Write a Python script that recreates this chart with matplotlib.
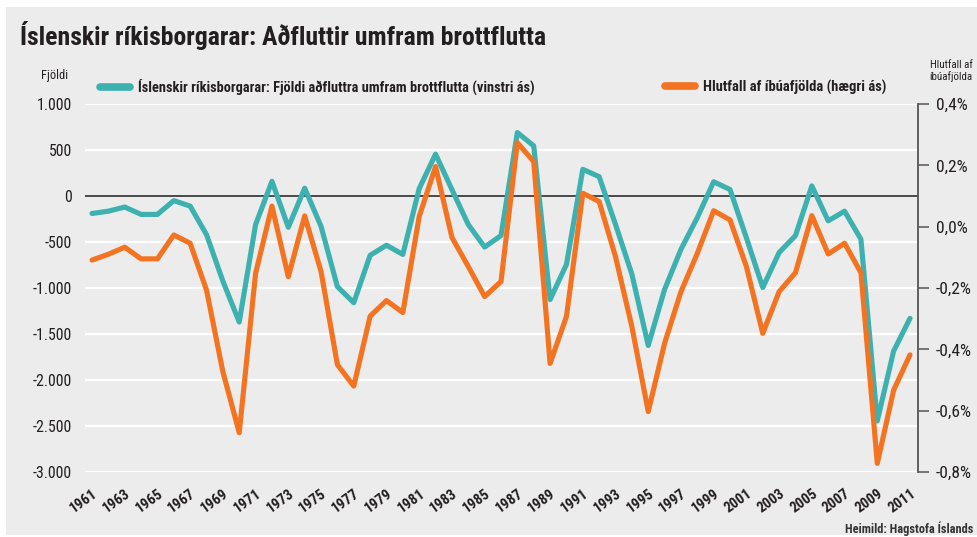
import matplotlib
matplotlib.use("Agg")
import matplotlib.pyplot as plt
from matplotlib import font_manager as fm
from matplotlib.patches import Rectangle
from matplotlib.ticker import FuncFormatter, FixedLocator

# ---------------- data ----------------
years = list(range(1961, 2012))
net_citizens = [
    -190, -165, -120, -200, -200, -50, -110, -420, -925, -1370,
    -310, 160, -340, 85, -330, -985, -1160, -645, -535, -635,
    80, 455, 70, -310, -555, -430, 690, 545, -1125, -745,
    290, 210, -310, -850, -1625, -1015, -580, -235, 155, 70,
    -455, -995, -615, -430, 110, -270, -165, -470, -2445, -1685,
    -1330,
]
share_pct = [
    -0.109, -0.090, -0.067, -0.105, -0.105, -0.027, -0.054, -0.207, -0.473, -0.672,
    -0.152, 0.067, -0.163, 0.035, -0.146, -0.450, -0.520, -0.292, -0.241, -0.280,
    0.033, 0.196, -0.035, -0.130, -0.228, -0.179, 0.274, 0.212, -0.446, -0.293,
    0.109, 0.082, -0.098, -0.326, -0.603, -0.380, -0.212, -0.087, 0.052, 0.022,
    -0.130, -0.348, -0.212, -0.150, 0.036, -0.089, -0.054, -0.150, -0.772, -0.533,
    -0.418,
]
left_ticks = list(range(-3000, 1001, 500))
right_ticks = [-0.8, -0.6, -0.4, -0.2, 0.0, 0.2, 0.4]
x_ticks = years[::2]

title = "Íslenskir ríkisborgarar: Aðfluttir umfram brottflutta"
label_teal = "Íslenskir ríkisborgarar: Fjöldi aðfluttra umfram brottflutta (vinstri ás)"
label_orange = "Hlutfall af íbúafjölda (hægri ás)"
left_title = "Fjöldi"
right_title = "Hlutfall af\níbúafjölda"
source = "Heimild: Hagstofa Íslands"

# ---------------- style ----------------
names = {f.name for f in fm.fontManager.ttflist}
FONT = "DejaVu Sans"
for cand in ["Liberation Sans Narrow", "Roboto Condensed", "Open Sans Condensed",
             "Liberation Sans", "Roboto"]:
    if cand in names:
        FONT = cand
        break
plt.rcParams["font.family"] = [FONT, "DejaVu Sans"]

TEAL = "#3cb1b0"
ORANGE = "#f47321"
BG = "#ececec"
TXT = "#231f20"

W, H = 978, 537
fig = plt.figure(figsize=(W / 100, H / 100), dpi=100, facecolor="white")
renderer = fig.canvas.get_renderer()

def fx(px):
    return px / W

def fy(py):
    return 1 - py / H

def size_for(text, target_px, weight="normal", base=10.0):
    t = fig.text(0, 0, text, fontsize=base, fontweight=weight)
    w = t.get_window_extent(renderer).width
    t.remove()
    return base * target_px / w

fig.patches.append(Rectangle((fx(6), fy(535)), 1 - fx(6), fy(7) - fy(535),
                             transform=fig.transFigure, facecolor=BG,
                             edgecolor="none", zorder=-10))

ax = fig.add_axes([fx(85), fy(472), fx(918) - fx(85), fy(104) - fy(472)])
ax.set_facecolor(BG)
ax.set_xlim(1961 - 7 / 16.36, 2011 + 8 / 16.36)
ax.set_ylim(-3000, 1000)
ax.yaxis.set_major_locator(FixedLocator(left_ticks))
ax.grid(axis="y", color="white", lw=1.6)
ax.set_axisbelow(True)
ax.axhline(0, color="#3a3a3a", lw=1.3, zorder=1.5)
for s in ax.spines.values():
    s.set_visible(False)

ax2 = ax.twinx()
ax2.set_ylim(-0.8, 0.4)
ax2.yaxis.set_major_locator(FixedLocator(right_ticks))
for k, s in ax2.spines.items():
    s.set_visible(k == "right")
ax2.spines["right"].set_color("#555555")
ax2.spines["right"].set_linewidth(1.3)

l1, = ax.plot(years, net_citizens, color=TEAL, lw=3.7, solid_joinstyle="round",
              solid_capstyle="round", zorder=3)
l2, = ax2.plot(years, share_pct, color=ORANGE, lw=3.7, solid_joinstyle="round",
               solid_capstyle="round", zorder=3)

tick_fs = size_for("1.000", 35)
ax.yaxis.set_major_formatter(FuncFormatter(lambda v, p: f"{int(round(v)):,}".replace(",", ".")))
ax.tick_params(axis="y", length=0, pad=9.4, labelsize=tick_fs, labelcolor=TXT)
ax2.yaxis.set_major_formatter(FuncFormatter(lambda v, p: f"{v:.1f}%".replace(".", ",")))
ax2.tick_params(axis="y", direction="out", length=8, width=1.1, color="#555555",
                pad=5, labelsize=size_for("-0,4%", 36), labelcolor=TXT)

ax.set_xticks(x_ticks)
xfs = size_for("1961", 30, weight="bold")
ax.set_xticklabels([str(y) for y in x_ticks], rotation=36, ha="right",
                   rotation_mode="anchor", fontweight="bold", fontsize=xfs, color=TXT)
ax.tick_params(axis="x", length=0, pad=10.5)

# title and annotations
fig.text(fx(20), fy(36), title, fontsize=size_for(title, 528, "bold"),
         fontweight="bold", color=TXT, va="center", ha="left")
fig.text(fx(55), fy(76), left_title, fontsize=size_for(left_title, 27),
         color=TXT, ha="center", va="center")
fig.text(fx(951), fy(71), right_title, fontsize=size_for("íbúafjölda", 43),
         color=TXT, ha="center", va="center", linespacing=1.15)
fig.text(fx(973), fy(529), source, fontsize=size_for(source, 128, "bold"),
         fontweight="bold", color="#333333", ha="right", va="center")

# legends
def add_legend(line, label, x0, text_w, handle_w=30, pad=8):
    fs = size_for(label, text_w, "bold")
    em = fs * 100 / 72
    leg = fig.legend(handles=[line], labels=[label], loc="center left",
                     bbox_to_anchor=(fx(x0), fy(87)), bbox_transform=fig.transFigure,
                     frameon=False, borderpad=0, borderaxespad=0,
                     handlelength=handle_w / em, handletextpad=pad / em,
                     prop={"weight": "bold", "size": fs})
    for t in leg.get_texts():
        t.set_color(TXT)
    for h in leg.legend_handles:
        h.set_linewidth(5.5)
    return leg

add_legend(l1, label_teal, 100, 399)
add_legend(l2, label_orange, 665, 182)

fig.savefig("out.png", dpi=100, facecolor="white")
